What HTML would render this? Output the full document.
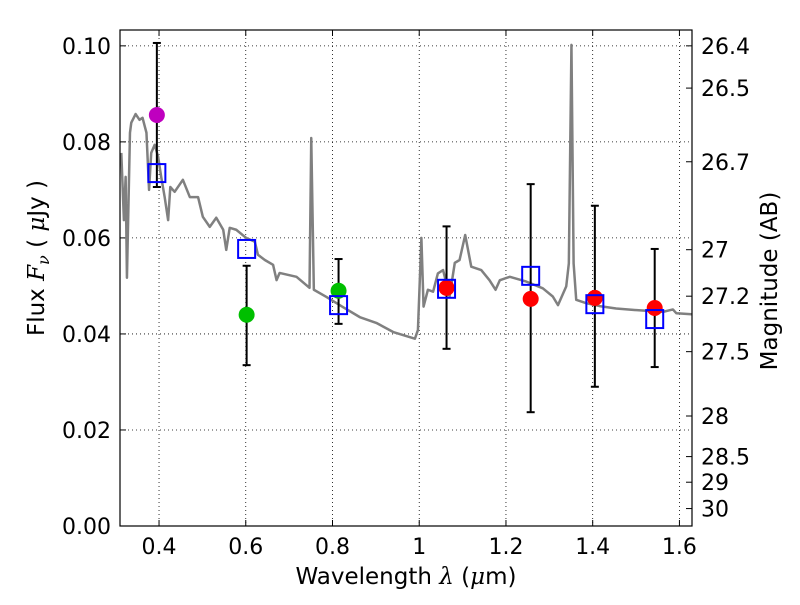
<!DOCTYPE html>
<html><head><meta charset="utf-8"><style>
body{margin:0;background:#fff;width:800px;height:600px;overflow:hidden}
svg text{font-family:"DejaVu Sans","Liberation Sans",sans-serif;fill:#000}
</style></head><body>
<svg id="chart" width="800" height="600" xmlns="http://www.w3.org/2000/svg"></svg>
<script>
const specWl=[0.313,0.319,0.323,0.326,0.333,0.336,0.346,0.355,0.362,0.371,0.377,0.382,0.390,0.398,0.405,0.413,0.421,0.426,0.436,0.455,0.471,0.490,0.501,0.517,0.532,0.548,0.555,0.563,0.578,0.601,0.621,0.628,0.644,0.663,0.671,0.678,0.717,0.747,0.751,0.757,0.786,0.824,0.863,0.901,0.940,0.990,0.997,1.005,1.010,1.020,1.032,1.043,1.055,1.070,1.082,1.093,1.106,1.120,1.143,1.162,1.176,1.186,1.209,1.247,1.285,1.308,1.320,1.339,1.345,1.351,1.356,1.362,1.385,1.416,1.454,1.493,1.562,1.585,1.593,1.628];
const specFlux=[0.0777,0.0637,0.0727,0.0517,0.0819,0.0840,0.0858,0.0846,0.0850,0.0819,0.0700,0.0777,0.0794,0.0769,0.0727,0.0685,0.0637,0.0706,0.0696,0.0721,0.0685,0.0685,0.0644,0.0623,0.0642,0.0617,0.0575,0.0621,0.0617,0.0600,0.0592,0.0565,0.0554,0.0544,0.0512,0.0527,0.0519,0.0496,0.0808,0.0492,0.0477,0.0456,0.0435,0.0423,0.0404,0.0390,0.0408,0.0600,0.0457,0.0492,0.0488,0.0526,0.0533,0.0478,0.0548,0.0554,0.0606,0.0540,0.0533,0.0512,0.0492,0.0512,0.0519,0.0509,0.0495,0.0478,0.0460,0.0499,0.0547,0.1002,0.0547,0.0471,0.0464,0.0458,0.0453,0.0450,0.0446,0.0451,0.0443,0.0441];
const photWl=[0.395,0.602,0.814,1.063,1.257,1.405,1.543];
const photFlux=[0.0856,0.0440,0.0490,0.0496,0.0473,0.0475,0.0454];
const photHi=[0.1006,0.0542,0.0556,0.0624,0.0712,0.0667,0.0577];
const photLo=[0.0706,0.0335,0.0421,0.0369,0.0237,0.0290,0.0331];
const photColor=['#bf00bf','#00bf00','#00bf00','#ff0000','#ff0000','#ff0000','#ff0000'];
const modelFlux=[0.0735,0.0577,0.0460,0.0494,0.0521,0.0462,0.0431];
const xTicks=[0.4,0.6,0.8,1.0,1.2,1.4,1.6];
const xTickLabels=['0.4','0.6','0.8','1','1.2','1.4','1.6'];
const yTicks=[0,0.02,0.04,0.06,0.08,0.10];
const yTickLabels=['0.00','0.02','0.04','0.06','0.08','0.10'];
const magTicks=[26.4,26.5,26.7,27,27.2,27.5,28,28.5,29,30];
const magLabels=['26.4','26.5','26.7','27','27.2','27.5','28','28.5','29','30'];

const L=120,R=692,T=30,B=526;
const x0=0.31,x1=1.629,y0=0,y1=0.1033;
const X=v=>L+(v-x0)/(x1-x0)*(R-L);
const Y=v=>B-(v-y0)/(y1-y0)*(B-T);
const svg=document.getElementById('chart');
const NS='http://www.w3.org/2000/svg';
function mk(tag,attrs,parent){const e=document.createElementNS(NS,tag);for(const k in attrs)e.setAttribute(k,attrs[k]);(parent||svg).appendChild(e);return e;}

const grid=mk('g',{});


xTicks.forEach((t,i)=>{
  mk('line',{x1:X(t),x2:X(t),y1:T,y2:B,stroke:'#000','stroke-width':0.8,'stroke-dasharray':'1,3'},grid);
  mk('line',{x1:X(t),x2:X(t),y1:B,y2:B-6,stroke:'#000'},grid);
  mk('line',{x1:X(t),x2:X(t),y1:T,y2:T+6,stroke:'#000'},grid);
  const tx=mk('text',{x:X(t),y:B+28,'font-size':22,'text-anchor':'middle'});
  
  
  tx.textContent=xTickLabels[i];
});
yTicks.forEach((t,i)=>{
  mk('line',{x1:L,x2:R,y1:Y(t),y2:Y(t),stroke:'#000','stroke-width':0.8,'stroke-dasharray':'1,3'},grid);
  mk('line',{x1:L,x2:L+6,y1:Y(t),y2:Y(t),stroke:'#000'},grid);
  const ty=mk('text',{x:L-9,y:Y(t)+8,'font-size':22,'text-anchor':'end'});
  
  
  ty.textContent=yTickLabels[i];
});
magTicks.forEach((m,i)=>{
  const f=Math.pow(10,(23.9-m)/2.5);
  mk('line',{x1:R,x2:R-6,y1:Y(f),y2:Y(f),stroke:'#000'});
  const tm=mk('text',{x:R+9,y:Y(f)+8,'font-size':22});
  
  
  tm.textContent=magLabels[i];
});

const sp=mk('polyline',{points:specWl.map((w,i)=>X(w)+','+Y(specFlux[i])).join(' '),fill:'none',stroke:'#808080','stroke-width':2.5,'stroke-linejoin':'round'});



photWl.forEach((w,i)=>{
  const g=mk('g',{});
  
  
  mk('line',{x1:X(w),x2:X(w),y1:Y(photHi[i]),y2:Y(photLo[i]),stroke:'#000','stroke-width':2},g);
  mk('line',{x1:X(w)-4,x2:X(w)+4,y1:Y(photHi[i]),y2:Y(photHi[i]),stroke:'#000','stroke-width':2},g);
  mk('line',{x1:X(w)-4,x2:X(w)+4,y1:Y(photLo[i]),y2:Y(photLo[i]),stroke:'#000','stroke-width':2},g);
  mk('circle',{cx:X(w),cy:Y(photFlux[i]),r:8,fill:photColor[i]},g);
  const s=mk('rect',{x:X(w)-8.5,y:Y(modelFlux[i])-9,width:17,height:18,fill:'none',stroke:'#0000ff','stroke-width':2});
  
  
});

const fr=mk('rect',{x:L,y:T,width:R-L,height:B-T,fill:'none',stroke:'#000','stroke-width':1.2});



const xl=mk('text',{x:406,y:584,'font-size':23,'text-anchor':'middle'});


xl.setAttribute('xml:space','preserve');
xl.innerHTML='Wavelength  <tspan font-style="italic" font-family="DejaVu Serif">λ</tspan> (<tspan font-style="italic" font-family="DejaVu Serif">μ</tspan>m)';
const yl=mk('text',{x:0,y:0,'font-size':23,'text-anchor':'middle',transform:'translate(44,258) rotate(-90)'});


yl.setAttribute('xml:space','preserve');
yl.innerHTML='Flux  <tspan font-style="italic" font-family="DejaVu Serif">F</tspan><tspan font-style="italic" font-family="DejaVu Serif" font-size="16" dy="5">ν</tspan><tspan dy="-5">  (  </tspan><tspan font-style="italic" font-family="DejaVu Serif">μ</tspan>Jy )';
const rl=mk('text',{x:0,y:0,'font-size':23,'text-anchor':'middle',transform:'translate(777,281) rotate(-90)'});


rl.textContent='Magnitude (AB)';
</script>
</body></html>
